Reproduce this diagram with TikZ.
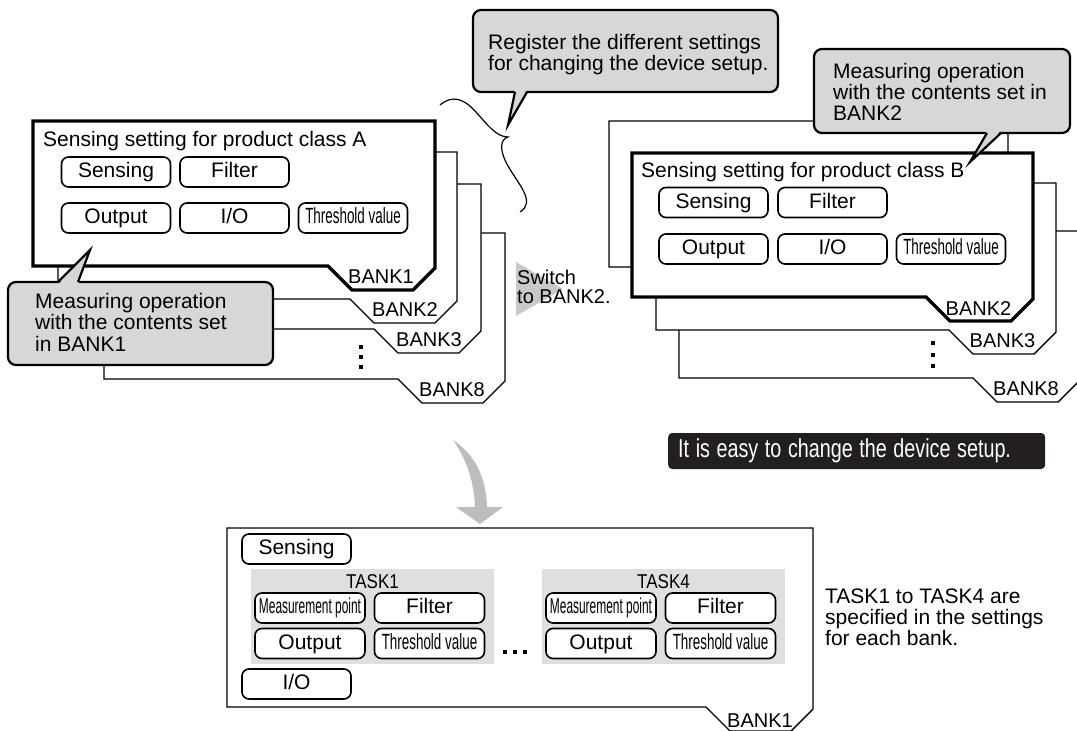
\documentclass[tikz,border=0pt]{standalone}
\usepackage{fontspec}
\setmainfont{Liberation Sans}
\usepackage{graphicx}
\definecolor{callgray}{HTML}{D7D7D7}
\definecolor{taskgray}{HTML}{DEDFE0}
\definecolor{trigray}{HTML}{C8C9CB}
\definecolor{arrowgray}{HTML}{BCBDC0}
\definecolor{boxblack}{HTML}{231F20}
\newcommand\cond[2]{\scalebox{#1}[1]{#2}}
\newcommand\mlines[1]{\begin{tabular}[t]{@{}l@{}}#1\end{tabular}}
\newcommand\thrtxt{\cond{0.61}{\fontsize{22}{22}\selectfont Threshold value}}
\newcommand\mptxt{\cond{0.555}{\fontsize{21.5}{21.5}\selectfont Measurement point}}
% L T R B style
\newcommand\bankframe[5]{\path[#5] (#1,#2) -- (#3,#2) -- (#3,{#4+2}) -- ({#3-22},{#4+24}) -- ({#3-83},{#4+24}) -- ({#3-107},#4) -- (#1,#4) -- cycle;}
\begin{document}
\begin{tikzpicture}[x=1pt,y=-1pt,
  txt/.style={inner sep=0pt, font=\fontsize{21}{21}\selectfont},
  txtsm/.style={inner sep=0pt, font=\fontsize{20}{19.5}\selectfont},
  btn/.style={draw, line width=1.6pt, rounded corners=7pt, fill=white,
    minimum width=109pt, minimum height=30pt, inner sep=0pt,
    font=\fontsize{21}{21}\selectfont, text height=15pt, text depth=4pt},
  bankthin/.style={draw, line width=1.4pt, fill=white, line join=miter},
  bankthick/.style={draw, line width=3.4pt, fill=white, line join=miter},
  banklbl/.style={inner sep=0pt, anchor=base, font=\fontsize{20}{20}\selectfont},
  callout/.style={draw, line width=2.2pt, fill=callgray, rounded corners=8pt},
  ptr/.style={line width=2.2pt, line join=miter},
  taskbox/.style={fill=taskgray, inner sep=0pt, minimum width=243pt, minimum height=95pt},
  sqdot/.style={fill=black, inner sep=0pt, minimum size=3.6pt}]
\useasboundingbox (0,0) rectangle (1077,731);
\clip (0,0) rectangle (1077,731);

% ---------------- left group of banks ----------------
\bankframe{104}{233}{505}{379}{bankthin}
\node[banklbl] (lb8) at (452,396) {BANK8};
\bankframe{82}{184}{481}{329}{bankthin}
\node[banklbl] (lb3) at (429,346) {BANK3};
\bankframe{58}{152}{457}{299}{bankthin}
\node[banklbl] (lb2) at (405,316) {BANK2};
\bankframe{33}{121}{435}{266}{bankthick}
\node[banklbl] (lb1) at (381,283) {BANK1};

\node[txt, anchor=base west] (ltitle) at (43,146) {Sensing setting for product class A};
\node[btn] (lsens) at (116,172) {Sensing};
\node[btn] (lfilt) at (234.5,172) {Filter};
\node[btn] (lout) at (116,218) {Output};
\node[btn] (lio) at (234.5,218) {I/O};
\node[btn] (lthr) at (353,218) {\thrtxt};

\node[sqdot] (ld1) at (361,347) {};
\node[sqdot] (ld2) at (361,357) {};
\node[sqdot] (ld3) at (361,367) {};

% left callout
\path[callout] (8,282) rectangle (273,365);
\fill[callgray] (58,284.5) -- (90,250) -- (78,284.5) -- cycle;
\draw[ptr] (58,282) -- (90,250) -- (78,282);
\node[txt, anchor=base west] (lcall) at (35,308) {\mlines{Measuring operation\\with the contents set\\in BANK1}};

% ---------------- top callout and brace ----------------
\path[callout] (473,10) rectangle (778,92);
\fill[callgray] (515,89.5) -- (508,125) -- (527,89.5) -- cycle;
\draw[ptr] (515,92) -- (508,125) -- (527,92);
\node[txt, anchor=base west] (reg) at (488,49) {\mlines{Register the different settings\\for changing the device setup.}};

\draw[line width=1.2pt] (440,105) .. controls (452,95) and (463,98) .. (475,111)
  .. controls (487,124) and (496,137) .. (508,137)
  .. controls (499,140) and (500,152) .. (508,166)
  .. controls (519,185) and (536,202) .. (520,212);

% switch arrow
\fill[trigray] (516,262) -- (563,289) -- (516,316) -- cycle;
\node[txtsm, anchor=base west] (switch) at (517,284) {\mlines{Switch\\to BANK2.}};

% ---------------- right group of banks ----------------
\bankframe{679}{231}{1080}{378}{bankthin}
\node[banklbl] (rb8) at (1026,395) {BANK8};
\bankframe{656}{183}{1056}{330}{bankthin}
\node[banklbl] (rb3) at (1002.5,347) {BANK3};
\bankframe{609}{121}{1008}{267}{bankthin}
\bankframe{632}{153}{1033}{297}{bankthick}
\node[banklbl] (rb2) at (978.5,315) {BANK2};

\node[txt, anchor=base west] (rtitle) at (641,177) {Sensing setting for product class B};
\node[btn] (rsens) at (713.5,202.5) {Sensing};
\node[btn] (rfilt) at (832.5,202.5) {Filter};
\node[btn] (rout) at (713.5,249) {Output};
\node[btn] (rio) at (832.5,249) {I/O};
\node[btn] (rthr) at (951,249) {\thrtxt};

\node[sqdot] (rd1) at (933,343) {};
\node[sqdot] (rd2) at (933,355) {};
\node[sqdot] (rd3) at (933,366) {};

% right callout
\path[callout] (814,49) rectangle (1070,133);
\fill[callgray] (987,130.5) -- (970,162) -- (1001,130.5) -- cycle;
\draw[ptr] (987,133) -- (970,162) -- (1001,133);
\node[txt, anchor=base west] (rcall) at (833,78) {\mlines{Measuring operation\\with the contents set in\\BANK2}};

% ---------------- easy box ----------------
\node[fill=boxblack, rounded corners=4pt, minimum height=36pt, text width=357pt,
  inner xsep=10pt, inner ysep=0pt, align=left, anchor=west, text=white,
  font=\fontsize{26}{26}\selectfont] (easy) at (668,451)
  {\cond{0.76}{It is easy to change the device setup.}};

% ---------------- curved arrow ----------------
\fill[arrowgray] (453,440) .. controls (471,452) and (486,472) .. (487,507)
  -- (503,507) -- (480,524) -- (456,507) -- (475,507)
  .. controls (474,482) and (467,460) .. (453,440) -- cycle;

% ---------------- bottom bank ----------------
\bankframe{227}{528}{813}{707}{bankthin}
\node[banklbl] (bb1) at (760,727) {BANK1};

\node[btn] (bsens) at (296.5,549) {Sensing};
\node[btn] (bio) at (296.5,684) {I/O};

\node[taskbox] (task1) at (372.5,616.5) {};
\node[txtsm, anchor=base] (t1lbl) at (372.5,588) {\cond{0.85}{TASK1}};
\node[btn, minimum width=110pt] (t1mp) at (310,608) {\mptxt};
\node[btn, minimum width=110pt] (t1filt) at (429.5,608) {Filter};
\node[btn, minimum width=110pt] (t1out) at (310,643.5) {Output};
\node[btn, minimum width=110pt] (t1thr) at (429.5,643.5) {\thrtxt};

\node[sqdot] (bd1) at (505,652) {};
\node[sqdot] (bd2) at (515,652) {};
\node[sqdot] (bd3) at (525,652) {};

\node[taskbox] (task4) at (663.5,616.5) {};
\node[txtsm, anchor=base] (t4lbl) at (663.5,588) {\cond{0.85}{TASK4}};
\node[btn, minimum width=110pt] (t4mp) at (601,608) {\mptxt};
\node[btn, minimum width=110pt] (t4filt) at (720.5,608) {Filter};
\node[btn, minimum width=110pt] (t4out) at (601,643.5) {Output};
\node[btn, minimum width=110pt] (t4thr) at (720.5,643.5) {\thrtxt};

\node[inner sep=0pt, anchor=base west, font=\fontsize{21}{20.5}\selectfont] (tasknote) at (825,603)
  {\mlines{TASK1 to TASK4 are\\specified in the settings\\for each bank.}};
\end{tikzpicture}
\end{document}
